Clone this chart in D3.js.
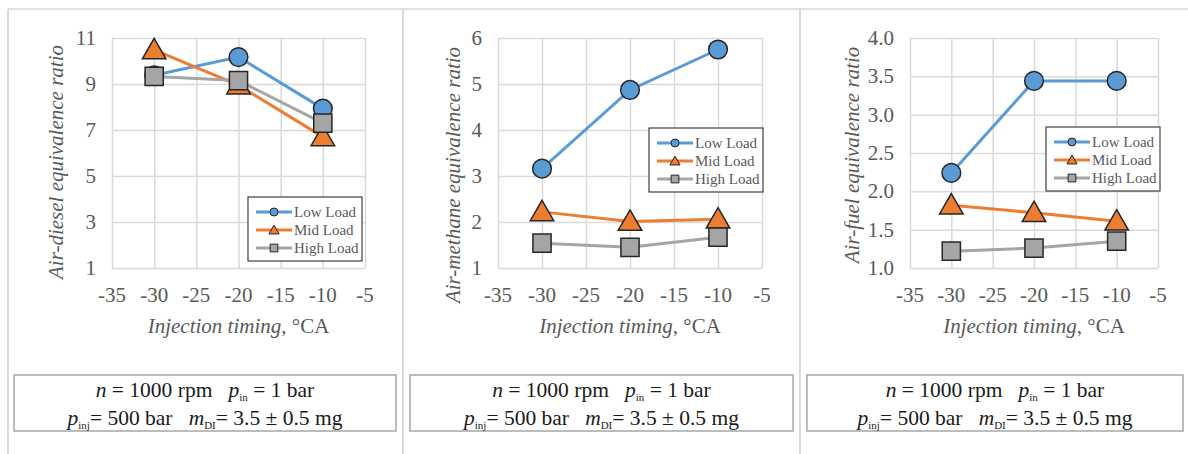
<!DOCTYPE html>
<html>
<head>
<meta charset="utf-8">
<script src="https://cdn.jsdelivr.net/npm/d3@7"></script>
<style>
  body { margin: 0; background: #fff; }
  svg text { font-family: "Liberation Serif", "DejaVu Serif", serif !important; }
</style>
</head>
<body>
<div id="chart"></div>
<script>
// data
const timing = [-30, -20, -10];
const xTicks = [-35, -30, -25, -20, -15, -10, -5];
const seriesNames = ["Low Load", "Mid Load", "High Load"];

const dieselLow = [9.38, 10.17, 7.93];
const dieselMid = [10.48, 8.95, 6.7];
const dieselHigh = [9.33, 9.15, 7.3];

const methaneLow = [3.16, 4.87, 5.75];
const methaneMid = [2.22, 2.01, 2.06];
const methaneHigh = [1.54, 1.45, 1.67];

const fuelLow = [2.24, 3.44, 3.44];
const fuelMid = [1.82, 1.72, 1.61];
const fuelHigh = [1.22, 1.26, 1.35];

const dieselTicks = [1, 3, 5, 7, 9, 11];
const methaneTicks = [1, 2, 3, 4, 5, 6];
const fuelTicks = [1.0, 1.5, 2.0, 2.5, 3.0, 3.5, 4.0];

const colors = ["#5b9bd5", "#ed7d31", "#a5a5a5"];
const shapes = [d3.symbolCircle, d3.symbolTriangle, d3.symbolSquare];
const markerSize = [275, 240, 330];
const legendSize = [50, 45, 60];

const serif = "'Liberation Serif', 'DejaVu Serif', serif";

const svg = d3.select("#chart")
    .append("svg")
    .attr("width", 1188)
    .attr("height", 454)
    .attr("font-family", serif);

// panel frames
const frame = svg.append("g").attr("fill", "none").attr("stroke", "#c4c4c4").attr("stroke-width", 1.2);
frame.append("line").attr("x1", 8).attr("x2", 1188).attr("y1", 9).attr("y2", 9);
[8, 403, 800].forEach(x => {
    frame.append("line").attr("x1", x).attr("x2", x).attr("y1", 9).attr("y2", 454);
});

const panels = [
    {left: 112, right: 365, ticks: dieselTicks, fmt: d3.format("d"), data: [dieselLow, dieselMid, dieselHigh],
     title: "Air-diesel equivalence ratio", titleX: 56, titleY: 162,
     legend: {x: 248, y: 197}, box: {x: 14, w: 382}},
    {left: 498, right: 762, ticks: methaneTicks, fmt: d3.format("d"), data: [methaneLow, methaneMid, methaneHigh],
     title: "Air-methane equivalence ratio", titleX: 453, titleY: 175,
     legend: {x: 649, y: 128}, box: {x: 410, w: 383}},
    {left: 910, right: 1158, ticks: fuelTicks, fmt: d3.format(".1f"), data: [fuelLow, fuelMid, fuelHigh],
     title: "Air-fuel equivalence ratio", titleX: 852, titleY: 155,
     legend: {x: 1046, y: 127}, box: {x: 807, w: 376}}
];

const plotTop = 38, plotBottom = 268;

function drawPanel(p) {
    const x = d3.scaleLinear().domain([-35, -5]).range([p.left, p.right]);
    const y = d3.scaleLinear().domain([p.ticks[0], p.ticks[p.ticks.length - 1]]).range([plotBottom, plotTop]);

    const g = svg.append("g");

    // gridlines
    g.append("g")
        .attr("transform", `translate(0,${plotBottom})`)
        .call(d3.axisBottom(x).tickValues(xTicks).tickSize(-(plotBottom - plotTop)).tickFormat(""))
        .call(a => a.select(".domain").remove())
        .selectAll("line").attr("stroke", "#d9d9d9").attr("stroke-width", 1.5);
    g.append("g")
        .attr("transform", `translate(${p.left},0)`)
        .call(d3.axisLeft(y).tickValues(p.ticks).tickSize(-(p.right - p.left)).tickFormat(""))
        .call(a => a.select(".domain").remove())
        .selectAll("line").attr("stroke", "#d9d9d9").attr("stroke-width", 1.5);

    // tick labels
    g.append("g")
        .selectAll("text")
        .data(xTicks)
        .join("text")
        .attr("x", d => x(d))
        .attr("y", 302)
        .attr("text-anchor", "middle")
        .attr("font-size", 21)
        .attr("fill", "#595959")
        .text(d => d);
    g.append("g")
        .selectAll("text")
        .data(p.ticks)
        .join("text")
        .attr("x", p.left - 16)
        .attr("y", d => y(d) + 7)
        .attr("text-anchor", "end")
        .attr("font-size", 21)
        .attr("fill", "#595959")
        .text(p.fmt);

    // axis titles
    g.append("text")
        .attr("transform", `translate(${p.titleX},${p.titleY}) rotate(-90)`)
        .attr("text-anchor", "middle")
        .attr("dy", "0.35em")
        .attr("font-size", 21)
        .attr("font-style", "italic")
        .attr("fill", "#595959")
        .text(p.title);
    const xt = g.append("text")
        .attr("x", (p.left + p.right) / 2)
        .attr("y", 333)
        .attr("text-anchor", "middle")
        .attr("font-size", 21)
        .attr("fill", "#595959");
    xt.append("tspan").attr("font-style", "italic").text("Injection timing");
    xt.append("tspan").text(", °CA");

    // series
    const line = d3.line().x((d, i) => x(timing[i])).y(d => y(d));
    p.data.forEach((vals, s) => {
        g.append("path")
            .datum(vals)
            .attr("fill", "none")
            .attr("stroke", colors[s])
            .attr("stroke-width", 3)
            .attr("d", line);
        g.append("g")
            .selectAll("path")
            .data(vals)
            .join("path")
            .attr("transform", (d, i) => `translate(${x(timing[i])},${y(d) + (s === 1 ? 2 : 0)})`)
            .attr("d", d3.symbol().type(shapes[s]).size(markerSize[s]))
            .attr("fill", colors[s])
            .attr("stroke", "#262626")
            .attr("stroke-width", 1.5);
    });

    // legend
    const lg = g.append("g").attr("transform", `translate(${p.legend.x},${p.legend.y})`);
    lg.append("rect")
        .attr("width", 114).attr("height", 64)
        .attr("fill", "#fff")
        .attr("stroke", "#404040")
        .attr("stroke-width", 1.2);
    seriesNames.forEach((name, s) => {
        const ly = 15 + s * 18;
        lg.append("line")
            .attr("x1", 8).attr("x2", 44)
            .attr("y1", ly).attr("y2", ly)
            .attr("stroke", colors[s]).attr("stroke-width", 3);
        lg.append("path")
            .attr("transform", `translate(26,${ly + (s === 1 ? 1 : 0)})`)
            .attr("d", d3.symbol().type(shapes[s]).size(legendSize[s]))
            .attr("fill", colors[s])
            .attr("stroke", "#262626")
            .attr("stroke-width", 1);
        lg.append("text")
            .attr("x", 46).attr("y", ly + 5)
            .attr("font-size", 15)
            .attr("fill", "#595959")
            .text(name);
    });

    // condition box
    const bx = g.append("g").attr("transform", `translate(${p.box.x},375)`);
    bx.append("rect")
        .attr("width", p.box.w).attr("height", 56)
        .attr("fill", "none")
        .attr("stroke", "#a6a6a6")
        .attr("stroke-width", 1.5);
    const t1 = bx.append("text")
        .attr("x", p.box.w / 2).attr("y", 22)
        .attr("text-anchor", "middle")
        .attr("font-size", 21.5)
        .attr("fill", "#1a1a1a")
        .style("white-space", "pre");
    t1.append("tspan").attr("font-style", "italic").text("n");
    t1.append("tspan").text(" = 1000 rpm   ");
    t1.append("tspan").attr("font-style", "italic").text("p");
    t1.append("tspan").attr("font-size", 11).attr("dy", 4).text("in");
    t1.append("tspan").attr("dy", -4).text(" = 1 bar");
    const t2 = bx.append("text")
        .attr("x", p.box.w / 2).attr("y", 50)
        .attr("text-anchor", "middle")
        .attr("font-size", 21.5)
        .attr("fill", "#1a1a1a")
        .style("white-space", "pre");
    t2.append("tspan").attr("font-style", "italic").text("p");
    t2.append("tspan").attr("font-size", 11).attr("dy", 4).text("inj");
    t2.append("tspan").attr("dy", -4).text("= 500 bar   ");
    t2.append("tspan").attr("font-style", "italic").text("m");
    t2.append("tspan").attr("font-size", 11).attr("dy", 4).text("DI");
    t2.append("tspan").attr("dy", -4).text("= 3.5 ± 0.5 mg");
}

panels.forEach(drawPanel);
</script>
</body>
</html>
